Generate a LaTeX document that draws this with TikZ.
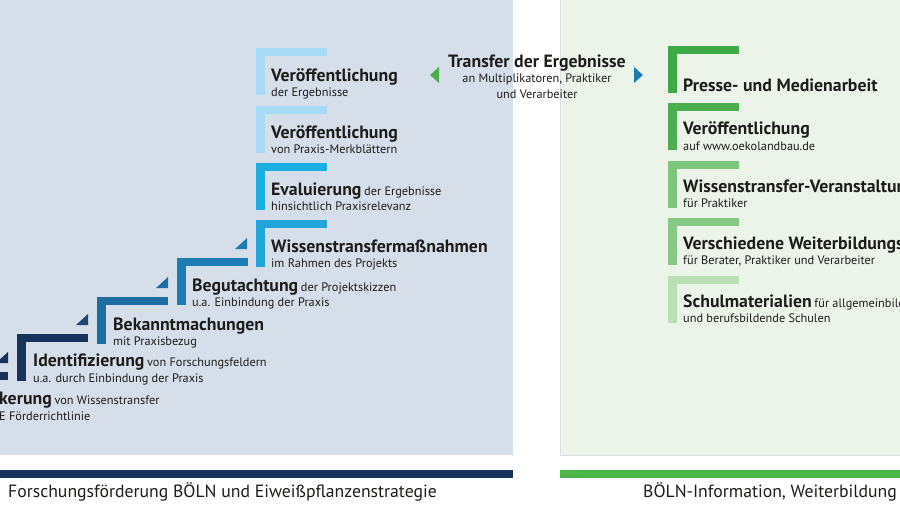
\documentclass[tikz,border=0pt]{standalone}
\usepackage{fontspec}
\setmainfont{PT Sans}
\usepackage{xcolor}
\definecolor{fondoazul}{HTML}{D6DEEA}
\definecolor{fondoverde}{HTML}{ECF4E9}
\definecolor{navy}{HTML}{17335C}
\definecolor{navyb}{HTML}{1C4875}
\definecolor{azulm}{HTML}{1B6FA3}
\definecolor{azulb}{HTML}{1B7DB3}
\definecolor{cyanw}{HTML}{1FA5DA}
\definecolor{cyane}{HTML}{1AAEE3}
\definecolor{hellblau}{HTML}{A7DAF4}
\definecolor{gruen}{HTML}{3EAA45}
\definecolor{gruenb}{HTML}{4BAF4F}
\definecolor{gruenc}{HTML}{7DC47C}
\definecolor{gruend}{HTML}{86C886}
\definecolor{gruene}{HTML}{B8DEB2}
\definecolor{balken}{HTML}{4DB848}
\definecolor{schrift}{HTML}{1D1D1B}
\usetikzlibrary{positioning}
\newcommand{\T}[1]{{\fontsize{17.8}{20}\selectfont\bfseries #1}}
\newcommand{\Sm}[1]{{\fontsize{12.3}{14}\selectfont #1}}
% Stufe: x, y (oben links), Farbe
\newcommand{\stufe}[3]{%
  \fill[#3] (#1,#2) rectangle ++(71,8);
  \fill[#3] (#1,#2) rectangle ++(9,47);}
% Ecke: rechtes Ende x, Oberkante y, Farbe
\newcommand{\ecke}[3]{%
  \fill[#3] (#1,#2-9) -- ++(-12,0) -- ++(12,-11) -- cycle;}

\begin{document}
\begin{tikzpicture}[x=1pt, y=-1pt,
    tt/.style={inner sep=0pt, anchor=mid west, text=schrift},
    st/.style={inner sep=0pt, anchor=mid west, text=schrift, font=\fontsize{12.3}{14}\selectfont}]
        \useasboundingbox (0,0) rectangle (900,506);
        \clip (0,0) rectangle (900,506);
        % Hintergrund
        \fill[fondoazul] (0,0) rectangle (513,455);
        \fill[fondoverde, draw=gray!25, line width=0.6pt] (560,-2) rectangle (902,455);

        %######## Linke Seite #############
        % Stufen von unten nach oben
        \stufe{-63}{372}{navy}
        \ecke{8}{372}{navy}
        \node[tt] (verank) at (-1,402) {\T{kerung} \Sm{von Wissenstransfer}};
        \node[st] (verankS) at (-1,418) {E Förderrichtlinie};

        \stufe{17}{334}{navy}
        \ecke{88}{334}{navyb}
        \node[tt] (ident) at (33,364) {\T{Identifizierung} \Sm{von Forschungsfeldern}};
        \node[st] (identS) at (33,380) {u.a. durch Einbindung der Praxis};

        \stufe{97}{297}{azulm}
        \ecke{168}{297}{azulm}
        \node[tt] (bekannt) at (113,328) {\T{Bekanntmachungen}};
        \node[st] (bekanntS) at (113,343) {mit Praxisbezug};

        \stufe{177}{258}{azulb}
        \ecke{247}{258}{azulb}
        \node[tt] (begut) at (192,289) {\T{Begutachtung} \Sm{der Projektskizzen}};
        \node[st] (begutS) at (192,304) {u.a. Einbindung der Praxis};

        \stufe{256}{220}{cyanw}
        \node[tt] (massn) at (271,250) {\T{Wissenstransfermaßnahmen}};
        \node[st] (massnS) at (271,265) {im Rahmen des Projekts};

        \stufe{256}{163}{cyane}
        \node[tt] (eval) at (271,193) {\T{Evaluierung} \Sm{der Ergebnisse}};
        \node[st] (evalS) at (271,208) {hinsichtlich Praxisrelevanz};

        \stufe{256}{106}{hellblau}
        \node[tt] (merkbl) at (271,136) {\T{Veröffentlichung}};
        \node[st] (merkblS) at (271,151) {von Praxis-Merkblättern};

        \stufe{256}{48}{hellblau}
        \node[tt] (ergeb) at (271,79) {\T{Veröffentlichung}};
        \node[st] (ergebS) at (271,94) {der Ergebnisse};

        %######## Transfer #############
        \node[text=schrift, inner sep=0pt] (transfer) at (537,63) {\T{Transfer der Ergebnisse}};
        \node[text=schrift, inner sep=0pt, font=\fontsize{12.3}{14}\selectfont] (transferA) at (537,79) {an Multiplikatoren, Praktiker};
        \node[text=schrift, inner sep=0pt, font=\fontsize{12.3}{14}\selectfont] (transferB) at (537,94) {und Verarbeiter};
        \fill[gruenb] (430,75) -- (439,67) -- (439,83) -- cycle;
        \fill[azulb] (643,75) -- (634,67) -- (634,83) -- cycle;

        %######## Rechte Seite #############
        \stufe{668}{46}{gruen}
        \node[tt] (presse) at (683,89) {\T{Presse- und Medienarbeit}};

        \stufe{668}{103}{gruenb}
        \node[tt] (oeko) at (683,132) {\T{Veröffentlichung}};
        \node[st] (oekoS) at (683,148) {auf www.oekolandbau.de};

        \stufe{668}{161}{gruenc}
        \node[tt] (veranst) at (683,190) {\T{Wissenstransfer-Veranstaltun}};
        \node[st] (veranstS) at (683,205) {für Praktiker};

        \stufe{668}{218}{gruend}
        \node[tt] (weiterb) at (683,247) {\T{Verschiedene Weiterbildungs}};
        \node[st] (weiterbS) at (683,262) {für Berater, Praktiker und Verarbeiter};

        \stufe{668}{276}{gruene}
        \node[tt] (schul) at (683,305) {\T{Schulmaterialien} \Sm{für allgemeinbild}};
        \node[st] (schulS) at (683,320) {und berufsbildende Schulen};

        %######## Balken unten #############
        \fill[navy] (0,470) rectangle (513,478);
        \fill[balken] (560,470) rectangle (900,478);
        \node[tt, font=\fontsize{17.7}{20}\selectfont] (foerd) at (8,495) {Forschungsförderung BÖLN und Eiweißpflanzenstrategie};
        \node[tt, font=\fontsize{17.7}{20}\selectfont] (info) at (643,495) {BÖLN-Information, Weiterbildung};
    \end{tikzpicture}
\end{document}
